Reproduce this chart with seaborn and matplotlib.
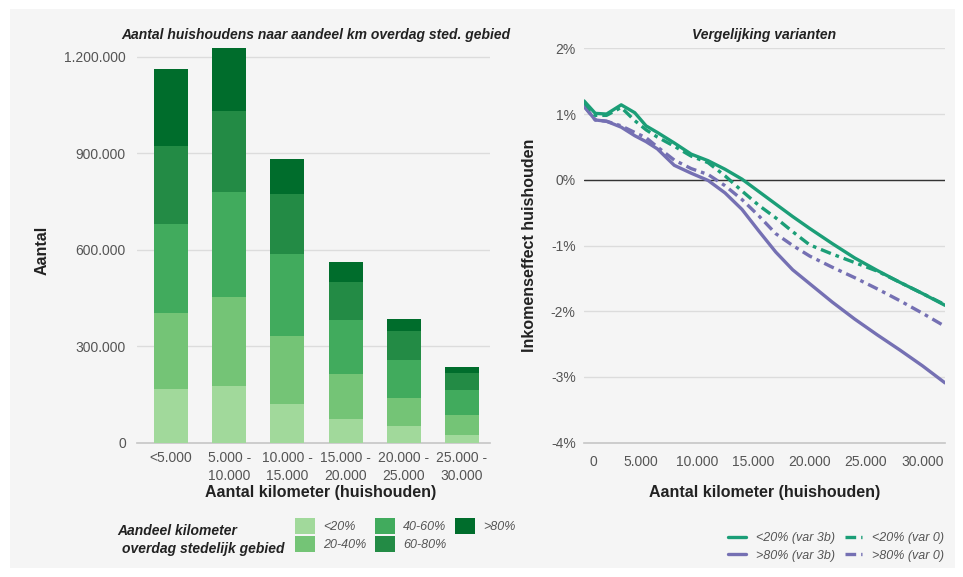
import matplotlib
matplotlib.use("Agg")
import matplotlib.pyplot as plt
from matplotlib.patches import Patch, Rectangle
from matplotlib.lines import Line2D
from matplotlib.ticker import FuncFormatter
import matplotlib.transforms as mtransforms
import pandas as pd
import seaborn as sns

# --- data: households per km class, stacked by share of km in urban area
km_klassen = ["<5.000", "5.000 -\n10.000", "10.000 -\n15.000",
              "15.000 -\n20.000", "20.000 -\n25.000", "25.000 -\n30.000"]
aandeel_labels = ["<20%", "20-40%", "40-60%", "60-80%", ">80%"]
n_lt20 = [167000, 177000, 122000, 76000, 52000, 25000]
n_20_40 = [237000, 278000, 210000, 137000, 89000, 63000]
n_40_60 = [278000, 326000, 255000, 170000, 117000, 76000]
n_60_80 = [242000, 252000, 187000, 118000, 90000, 53000]
n_gt80 = [239000, 195000, 110000, 61000, 37000, 19000]

# --- data: income effect (%) by km driven
km = [0, 1000, 2000, 3300, 4500, 5500, 6500, 8000, 9500, 11000, 12500, 14000,
      15500, 17000, 18500, 20000, 22000, 24000, 26000, 28000, 30000, 32000]
lt20_var3b = [1.20, 1.01, 1.00, 1.14, 1.02, 0.82, 0.72, 0.56, 0.39, 0.29, 0.16, 0.01,
              -0.18, -0.37, -0.56, -0.74, -0.97, -1.19, -1.38, -1.56, -1.73, -1.91]
lt20_var0 = [1.18, 0.98, 0.98, 1.10, 0.90, 0.76, 0.65, 0.51, 0.36, 0.26, 0.06, -0.17,
             -0.39, -0.58, -0.79, -0.99, -1.13, -1.26, -1.39, -1.56, -1.73, -1.90]
gt80_var3b = [1.12, 0.91, 0.89, 0.80, 0.67, 0.58, 0.47, 0.22, 0.10, -0.01, -0.20, -0.45,
              -0.78, -1.10, -1.37, -1.58, -1.86, -2.12, -2.36, -2.59, -2.83, -3.09]
gt80_var0 = [1.12, 0.91, 0.89, 0.82, 0.72, 0.64, 0.50, 0.30, 0.17, 0.08, -0.09, -0.30,
             -0.55, -0.82, -1.00, -1.16, -1.33, -1.49, -1.66, -1.84, -2.03, -2.23]

sns.set_theme(style="white")
plt.rcParams['font.family'] = ['Liberation Sans', 'DejaVu Sans']

panel = "#f5f5f5"
tick_col = "#555555"
grid_col = "#dcdcdc"
greens = ["#a1d99b", "#74c476", "#41ab5d", "#238b45", "#006d2c"]
dark2 = sns.color_palette("Dark2")
green, purple = dark2[0], dark2[2]
dashdot = (0, (3.2, 1.5, 1.1, 1.5))

W, H = 963, 577
fig = plt.figure(figsize=(W / 100, H / 100), dpi=100)
fig.patch.set_facecolor("white")
fig.patches.append(Rectangle((10 / W, 1 - 568 / H), 945 / W, 559 / H, transform=fig.transFigure,
                             facecolor=panel, edgecolor="none", zorder=-10))

# ---------------- left: stacked bars
ax1 = fig.add_axes([137 / W, 1 - 443 / H, (490 - 137) / W, (443 - 42.5) / H])
ax1.set_facecolor(panel)
layers = [n_lt20, n_20_40, n_40_60, n_60_80, n_gt80]
df = pd.DataFrame({"klasse": km_klassen})
cum = [0] * len(km_klassen)
for i, layer in enumerate(layers):
    cum = [a + b for a, b in zip(cum, layer)]
    df[aandeel_labels[i]] = cum
# draw from tallest cumulative down so lower layers cover upper ones
for i in reversed(range(len(layers))):
    sns.barplot(data=df, x="klasse", y=aandeel_labels[i], color=greens[i], saturation=1,
                width=0.584, errorbar=None, ax=ax1, order=km_klassen, zorder=3,
                linewidth=0, edgecolor="none")
ax1.set_xlim(-0.584, 5.48)
ax1.set_ylim(0, 1245000)
ax1.set_yticks([0, 300000, 600000, 900000, 1200000])
ax1.yaxis.set_major_formatter(FuncFormatter(lambda v, p: f"{int(v):,}".replace(",", ".")))
ax1.yaxis.grid(True, color=grid_col, lw=1)
ax1.set_axisbelow(True)
for s in ["top", "right", "left"]:
    ax1.spines[s].set_visible(False)
ax1.spines["bottom"].set_color("#c8c8c8")
ax1.tick_params(axis="both", colors=tick_col, labelsize=10, length=0)
ax1.tick_params(axis="y", pad=8)
ax1.tick_params(axis="x", pad=6)
for t in ax1.get_xticklabels():
    t.set_linespacing(1.35)
ax1.set_xlabel("")
ax1.set_ylabel("")

# ---------------- right: lines
ax2 = fig.add_axes([584 / W, 1 - 442.7 / H, (945 - 584) / W, (442.7 - 48.3) / H])
ax2.set_facecolor(panel)
ax2.axhline(0, color="#333333", lw=1, zorder=1.5)
sns.lineplot(x=km, y=gt80_var3b, color=purple, lw=2.4, ax=ax2, zorder=3)
sns.lineplot(x=km, y=gt80_var0, color=purple, lw=2.4, linestyle=dashdot, ax=ax2, zorder=3)
sns.lineplot(x=km, y=lt20_var0, color=green, lw=2.4, linestyle=dashdot, ax=ax2, zorder=3)
sns.lineplot(x=km, y=lt20_var3b, color=green, lw=2.4, ax=ax2, zorder=3)
ax2.set_xlim(0, 32000)
ax2.set_ylim(-4, 2)
ax2.set_yticks([-4, -3, -2, -1, 0, 1, 2])
ax2.yaxis.set_major_formatter(FuncFormatter(lambda v, p: f"{int(round(v))}%"))
ax2.set_xticks([0, 5000, 10000, 15000, 20000, 25000, 30000])
ax2.xaxis.set_major_formatter(FuncFormatter(lambda v, p: f"{int(v):,}".replace(",", ".")))
ax2.yaxis.grid(True, color=grid_col, lw=1)
ax2.set_axisbelow(True)
for s in ["top", "right", "left"]:
    ax2.spines[s].set_visible(False)
ax2.spines["bottom"].set_color("#c8c8c8")
ax2.tick_params(axis="both", colors=tick_col, labelsize=10)
ax2.tick_params(axis="y", length=0, pad=6)
ax2.tick_params(axis="x", length=4, width=1, color="#c8c8c8", direction="out", pad=5)
# the "0" label sits a little right of its tick in the original
zero_lbl = ax2.get_xticklabels()[0]
zero_lbl.set_transform(zero_lbl.get_transform() +
                       mtransforms.ScaledTranslation(9 / 100, 0, fig.dpi_scale_trans))

# ---------------- texts
fig.text(316 / W, 1 - 35 / H, "Aantal huishoudens naar aandeel km overdag sted. gebied",
         ha="center", va="center", fontsize=10, fontweight="bold", style="italic", color="#222222")
fig.text(764 / W, 1 - 35 / H, "Vergelijking varianten",
         ha="center", va="center", fontsize=10, fontweight="bold", style="italic", color="#222222")
fig.text(42 / W, 1 - 250 / H, "Aantal", rotation=90, ha="center", va="center",
         fontsize=11.5, fontweight="bold", color="#222222")
fig.text(530 / W, 1 - 245 / H, "Inkomenseffect huishouden", rotation=90, ha="center", va="center",
         fontsize=11.5, fontweight="bold", color="#222222")
fig.text(321 / W, 1 - 493 / H, "Aantal kilometer (huishouden)", ha="center", va="center",
         fontsize=11.5, fontweight="bold", color="#222222")
fig.text(765 / W, 1 - 493 / H, "Aantal kilometer (huishouden)", ha="center", va="center",
         fontsize=11.5, fontweight="bold", color="#222222")

# left legend
fig.text(117 / W, 1 - 531 / H, "Aandeel kilometer", ha="left", va="center",
         fontsize=10, fontweight="bold", style="italic", color="#222222")
fig.text(122 / W, 1 - 549 / H, "overdag stedelijk gebied", ha="left", va="center",
         fontsize=10, fontweight="bold", style="italic", color="#222222")
bar_handles = [Patch(facecolor=c, edgecolor="none") for c in greens]
leg1 = fig.legend(bar_handles, aandeel_labels, ncol=3, loc="upper left",
                  bbox_to_anchor=(295 / W, 1 - 518 / H), frameon=False, fontsize=9,
                  handlelength=1.6, handleheight=1.6, handletextpad=0.64,
                  labelspacing=0.14, columnspacing=0.7, borderpad=0, borderaxespad=0)
for t in leg1.get_texts():
    t.set_color(tick_col)
    t.set_style("italic")

# right legend
line_handles = [Line2D([], [], color=green, lw=2.4),
                Line2D([], [], color=purple, lw=2.4),
                Line2D([], [], color=green, lw=2.4, linestyle=dashdot),
                Line2D([], [], color=purple, lw=2.4, linestyle=dashdot)]
line_labels = ["<20% (var 3b)", ">80% (var 3b)", "<20% (var 0)", ">80% (var 0)"]
leg2 = fig.legend(line_handles, line_labels, ncol=2, loc="center right",
                  bbox_to_anchor=(944 / W, 1 - 547 / H), frameon=False, fontsize=9,
                  handlelength=1.4, handletextpad=0.8, labelspacing=0.45,
                  columnspacing=0.8, borderpad=0, borderaxespad=0)
for t in leg2.get_texts():
    t.set_color(tick_col)
    t.set_style("italic")

fig.savefig("out.png", dpi=100, facecolor="white")
